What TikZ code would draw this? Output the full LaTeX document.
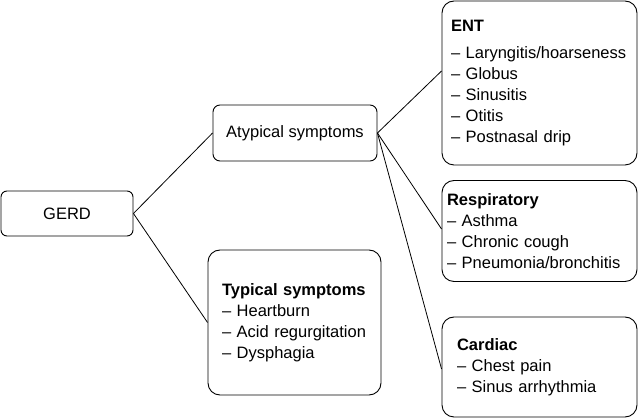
\documentclass[tikz,border=0pt]{standalone}
\usepackage{fontspec}
\setmainfont{Liberation Sans}
\begin{document}
\begin{tikzpicture}[x=1pt,y=-1pt,
  box/.style={draw, line width=0.9pt, rounded corners=#1, align=left, inner ysep=0pt, font=\fontsize{16.5}{21}\selectfont},
  box/.default=12pt,
  ln/.style={line width=0.8pt}]
\useasboundingbox (0,0) rectangle (638,419);
\node[box=6pt, minimum width=132pt, minimum height=45pt, align=center] (gerd) at (67,213.5) {GERD};
\node[box=7pt, minimum width=164pt, minimum height=56pt, align=center] (aty) at (295,133) {Atypical symptoms};
\node[box, minimum height=145pt, text width=145pt, inner xsep=14pt] (typ) at (294.5,322.5) {\textbf{Typical symptoms}\\– Heartburn\\– Acid regurgitation\\– Dysphagia};
\node[box, minimum height=164pt, text width=177pt, inner xsep=9pt] (ent) at (539.5,83) {\textbf{ENT}\\[6pt]– Laryngitis/hoarseness\\– Globus\\– Sinusitis\\– Otitis\\– Postnasal drip};
\node[box, minimum height=101pt, text width=185pt, inner xsep=5pt] (resp) at (539.5,231) {\textbf{Respiratory}\\– Asthma\\– Chronic cough\\– Pneumonia/bronchitis};
\node[box, minimum height=100pt, text width=165pt, inner xsep=15pt] (card) at (539.5,367) {\textbf{Cardiac}\\– Chest pain\\– Sinus arrhythmia};
\draw[ln] (gerd.east) -- (aty.west);
\draw[ln] (gerd.east) -- (typ.west);
\draw[ln] (aty.east) -- ([yshift=12pt]ent.west);
\draw[ln] (aty.east) -- ([yshift=2pt]resp.west);
\draw[ln] (aty.east) -- ([yshift=-2pt]card.west);
\end{tikzpicture}
\end{document}
